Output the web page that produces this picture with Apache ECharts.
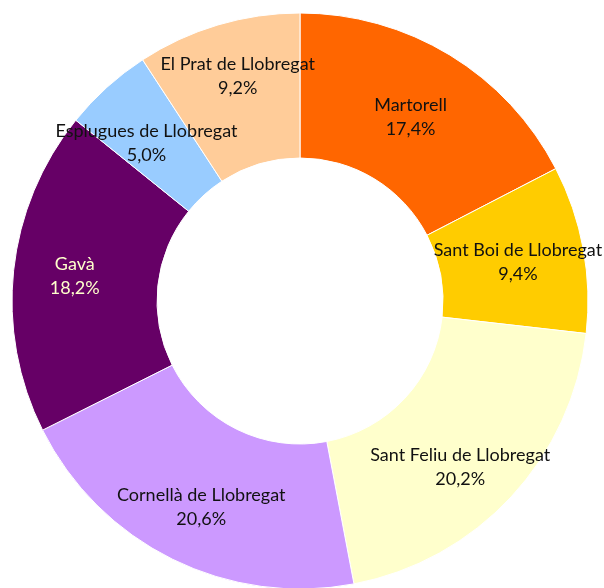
<!DOCTYPE html>
<html>
<head>
<meta charset="utf-8">
<script src="https://cdn.jsdelivr.net/npm/echarts@6/dist/echarts.min.js"></script>
<style>
  html, body { margin: 0; padding: 0; background: #fff; }
  #chart { width: 604px; height: 588px; }
</style>
</head>
<body>
<div id="chart"></div>
<script>
const municipis = ['Martorell', 'Sant Boi de Llobregat', 'Sant Feliu de Llobregat', 'Cornellà de Llobregat', 'Gavà', 'Esplugues de Llobregat', 'El Prat de Llobregat']
const percentatges = [17.4, 9.4, 20.2, 20.6, 18.2, 5.0, 9.2]
const colors = ['#FF6600', '#FFCC00', '#FFFFCC', '#CC99FF', '#660066', '#99CCFF', '#FFCC99']

// ajustos de posició de les etiquetes (com a l'Excel)
const labelOffsets = {
  'Martorell': [-3, 3],
  'Sant Boi de Llobregat': [3, 1],
  'Sant Feliu de Llobregat': [0, 18],
  'Cornellà de Llobregat': [-2, 10],
  'Gavà': [-8, -2],
  'Esplugues de Llobregat': [-7, 4],
  'El Prat de Llobregat': [0, -15]
}

const chart = echarts.init(document.getElementById('chart'))

const data = municipis.map((name, i) => {
  const item = {
    name: name,
    value: percentatges[i],
    itemStyle: { color: colors[i] },
    label: { offset: labelOffsets[name] }
  }
  if (name === 'Gavà') item.label.color = '#FFFFCC'
  return item
})

chart.setOption({
  animation: false,
  series: [
    {
      type: 'pie',
      center: [300, 301],
      radius: [143, 288],
      startAngle: 90,
      clockwise: true,
      avoidLabelOverlap: false,
      itemStyle: { borderColor: '#fff', borderWidth: 1 },
      label: {
        position: 'inside',
        color: '#111',
        fontFamily: 'Lato',
        fontSize: 18,
        lineHeight: 24,
        formatter: p => p.name + '\n' + p.value.toFixed(1).replace('.', ',') + '%'
      },
      labelLayout: { hideOverlap: false },
      labelLine: { show: false },
      emphasis: { disabled: true },
      data: data
    }
  ]
})
</script>
</body>
</html>
